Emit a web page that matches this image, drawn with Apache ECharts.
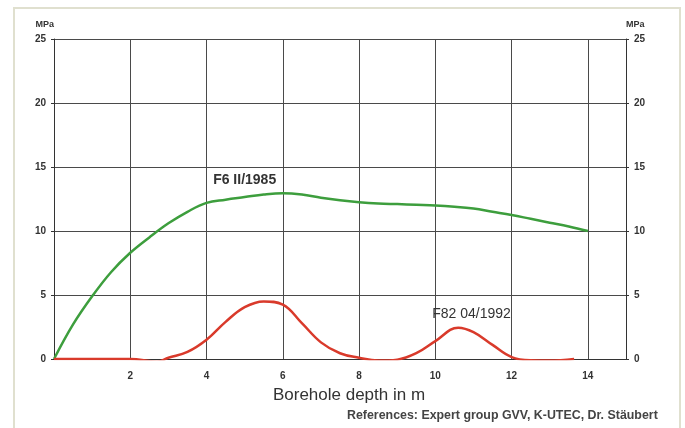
<!DOCTYPE html>
<html><head><meta charset="utf-8">
<script src="https://cdn.jsdelivr.net/npm/echarts@6/dist/echarts.min.js"></script>
<style>html,body{margin:0;padding:0;background:#fff}#c{width:685px;height:428px}</style>
</head><body><div id="c"></div>
<script>
const xTicks = [2, 4, 6, 8, 10, 12, 14];
const yTicks = [0, 5, 10, 15, 20, 25];
const greenName = 'F6 II/1985';
const greenX = [0, 0.5, 1, 1.5, 2, 2.5, 3, 3.5, 4, 4.5, 5, 5.5, 6, 6.5, 7, 7.5, 8, 8.5, 9, 9.5, 10, 10.5, 11, 11.5, 12, 12.5, 13, 13.5, 14];
const greenY = [0, 2.7, 4.9, 6.8, 8.3, 9.5, 10.6, 11.5, 12.2, 12.45, 12.65, 12.85, 12.95, 12.85, 12.6, 12.4, 12.25, 12.15, 12.1, 12.05, 12.0, 11.9, 11.75, 11.5, 11.25, 10.95, 10.65, 10.35, 10.0];
const redName = 'F82 04/1992';
const redX = [0, 1, 2, 2.7, 3, 3.5, 4, 4.5, 5, 5.5, 6, 6.5, 7, 7.5, 8, 8.5, 9, 9.5, 10, 10.6, 11, 11.5, 12, 12.5, 13, 13.64];
const redY = [0, 0, 0, -0.2, 0.1, 0.55, 1.5, 2.9, 4.05, 4.5, 4.25, 2.8, 1.3, 0.45, 0.1, -0.12, -0.05, 0.45, 1.4, 2.45, 2.1, 1.1, 0.15, -0.1, -0.12, 0];
const xName = 'Borehole depth in m';
const yUnit = 'MPa';
const credit = 'References: Expert group GVV, K-UTEC, Dr. Stäubert';

const font = 'Liberation Sans, Arial, sans-serif';
const chart = echarts.init(document.getElementById('c'), null, {renderer: 'canvas'});
const pair = (xs, ys) => xs.map((x, i) => [x, ys[i]]);
const yAxisBase = {
  type: 'value', min: 0, max: 25, interval: 5,
  name: yUnit, nameLocation: 'end', nameGap: 10,
  nameTextStyle: {fontFamily: font, fontSize: 9, fontWeight: 'bold', color: '#333'},
  axisLine: {show: true, lineStyle: {color: '#333', width: 1}},
  axisTick: {show: true, length: 3, lineStyle: {color: '#333'}},
  axisLabel: {fontFamily: font, fontSize: 10, fontWeight: 'bold', color: '#333', margin: 8}
};
chart.setOption({
  animation: false,
  backgroundColor: '#fff',
  graphic: [
    {type: 'rect', shape: {x: 14, y: 8, width: 666, height: 430}, style: {fill: 'none', stroke: '#e0e0cf', lineWidth: 2}, z: -1},
    {type: 'text', left: 347, top: 410, style: {text: credit, font: 'bold 12.4px ' + font, fill: '#444'}}
  ],
  grid: {left: 54, right: 59, top: 39, bottom: 69},
  xAxis: {
    type: 'value', min: 0, max: 15, interval: 2,
    name: xName, nameLocation: 'middle', nameGap: 28,
    nameTextStyle: {fontFamily: font, fontSize: 17, color: '#333', padding: [0, 0, 0, 18]},
    axisLine: {show: true, lineStyle: {color: '#333'}},
    axisTick: {show: false},
    axisLabel: {fontFamily: font, fontSize: 10, fontWeight: 'bold', color: '#333', margin: 12,
      formatter: v => xTicks.includes(v) ? String(v) : ''},
    splitLine: {show: true, lineStyle: {color: '#4a4a4a', width: 1},
      showMinLine: false, showMaxLine: false},
  },
  yAxis: [
    Object.assign({}, yAxisBase, {position: 'left', nameTextStyle: Object.assign({}, yAxisBase.nameTextStyle, {align: 'right'}),
      splitLine: {show: true, lineStyle: {color: '#4a4a4a', width: 1}}}),
    Object.assign({}, yAxisBase, {position: 'right', nameTextStyle: Object.assign({}, yAxisBase.nameTextStyle, {align: 'left'}),
      splitLine: {show: false}})
  ],
  series: [
    {name: greenName, type: 'line', data: pair(greenX, greenY), smooth: 0.4, symbol: 'none',
      lineStyle: {color: '#3d9e3d', width: 2.5},
      markPoint: {symbol: 'circle', symbolSize: 0, silent: true,
        data: [{coord: [5.0, 14.0], value: greenName}],
        label: {show: true, formatter: greenName, fontFamily: font, fontSize: 14, fontWeight: 'bold', color: '#333'}}},
    {name: redName, type: 'line', data: pair(redX, redY), smooth: 0.4, symbol: 'none',
      lineStyle: {color: '#d93a2b', width: 2.5},
      markPoint: {symbol: 'circle', symbolSize: 0, silent: true,
        data: [{coord: [10.95, 3.5], value: redName}],
        label: {show: true, formatter: redName, fontFamily: font, fontSize: 14, color: '#333'}}}
  ]
});
</script></body></html>
